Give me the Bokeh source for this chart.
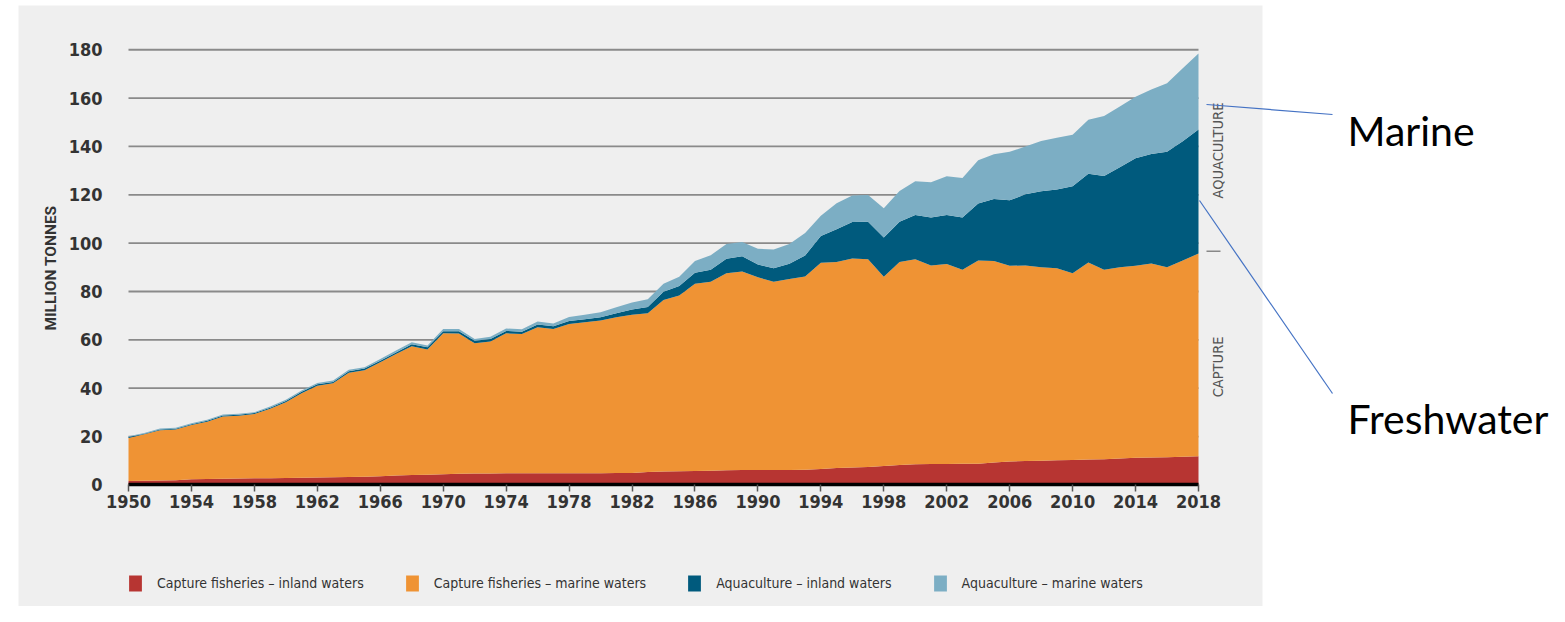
from math import pi
from bokeh.plotting import figure
from bokeh.models import (Range1d, FixedTicker, Legend, LegendItem, ColumnDataSource,
                          LinearAxis)
from bokeh.core.properties import value
from bokeh.embed import file_html
from bokeh.resources import INLINE

# ---------------- data (million tonnes) ----------------
years = list(range(1950, 2019))

capture_inland = [1.6, 1.7, 1.8, 1.9, 2.3, 2.4, 2.5, 2.6, 2.7, 2.8,
                  2.9, 3.0, 3.1, 3.2, 3.3, 3.4, 3.6, 3.9, 4.1, 4.2,
                  4.4, 4.6, 4.7, 4.7, 4.8, 4.8, 4.8, 4.8, 4.8, 4.8,
                  4.8, 4.9, 4.9, 5.3, 5.5, 5.6, 5.7, 5.9, 6.1, 6.2,
                  6.2, 6.2, 6.2, 6.3, 6.6, 7.0, 7.2, 7.4, 7.8, 8.2,
                  8.5, 8.6, 8.6, 8.7, 8.8, 9.3, 9.7, 9.9, 10.0, 10.2,
                  10.3, 10.5, 10.6, 10.9, 11.2, 11.3, 11.4, 11.6, 11.8]

capture_marine = [17.8, 19.2, 20.8, 21.0, 22.5, 23.7, 25.8, 26.0, 26.6, 28.7,
                  31.3, 34.9, 37.9, 38.8, 43.1, 44.0, 47.1, 50.2, 53.3, 51.8,
                  58.3, 58.0, 53.9, 54.6, 57.9, 57.6, 60.4, 59.7, 61.8, 62.5,
                  63.2, 64.5, 65.5, 65.7, 71.0, 72.7, 77.5, 78.1, 81.5, 82.1,
                  79.7, 77.8, 79.0, 79.9, 85.3, 85.2, 86.5, 85.9, 78.3, 84.0,
                  84.8, 82.2, 82.8, 80.3, 84.0, 83.3, 80.9, 80.9, 80.0, 79.4,
                  77.3, 81.5, 78.4, 79.1, 79.4, 80.3, 78.6, 81.2, 83.9]

aqua_inland = [0.4, 0.3, 0.3, 0.3, 0.3, 0.4, 0.4, 0.4, 0.4, 0.4,
               0.5, 0.6, 0.6, 0.6, 0.6, 0.7, 0.7, 0.7, 0.8, 0.9,
               0.9, 1.0, 1.0, 1.0, 1.0, 1.0, 1.1, 1.1, 1.2, 1.2,
               1.3, 1.6, 2.2, 2.6, 3.4, 4.0, 4.6, 5.0, 5.9, 6.3,
               5.3, 5.6, 6.3, 8.7, 11.1, 13.5, 15.0, 15.6, 16.2, 16.7,
               18.3, 19.8, 20.2, 21.6, 23.6, 25.7, 27.1, 29.4, 31.5, 32.6,
               35.9, 36.7, 38.8, 41.4, 44.5, 45.3, 47.8, 49.3, 51.3]

aqua_marine = [0.3, 0.3, 0.4, 0.4, 0.4, 0.4, 0.4, 0.4, 0.4, 0.5,
               0.5, 0.5, 0.5, 0.6, 0.6, 0.6, 0.7, 0.8, 0.8, 0.8,
               0.9, 0.9, 0.8, 1.0, 1.0, 1.0, 1.3, 1.2, 1.7, 1.9,
               2.1, 2.5, 2.8, 3.2, 3.3, 3.8, 4.8, 6.0, 6.1, 5.9,
               6.5, 7.8, 8.2, 9.3, 8.3, 10.8, 11.0, 11.0, 12.1, 12.7,
               14.0, 14.6, 16.1, 16.4, 17.9, 18.5, 20.1, 19.8, 20.8, 21.4,
               21.3, 22.3, 24.8, 25.1, 25.5, 26.7, 28.3, 30.2, 31.5]

series_labels = ["Capture fisheries \u2013 inland waters",
                 "Capture fisheries \u2013 marine waters",
                 "Aquaculture \u2013 inland waters",
                 "Aquaculture \u2013 marine waters"]
series_colors = ["#b73532", "#ef9334", "#005a7d", "#7caec4"]

y_ticks = [0, 20, 40, 60, 80, 100, 120, 140, 160, 180]
x_ticks = list(range(1950, 2019, 4))
side_labels = ["AQUACULTURE", "CAPTURE"]
side_label_values = [138.3, 48.8]
callouts = ["Marine", "Freshwater"]

# ---------------- layout helpers (picture pixels -> data) ----------------
W, H = 1549, 606
PX_PER_YEAR = 1070 / 68
PX_PER_UNIT = 2.4175
Y0_PX = 484.4


def dx(px):
    return 1950 + (px - 128) / PX_PER_YEAR


def dy(py):
    return (Y0_PX - py) / PX_PER_UNIT


NARROW = "'DejaVu Sans Condensed', 'Liberation Sans Narrow', 'Roboto Condensed', Roboto, sans-serif"

p = figure(width=W, height=H,
           x_range=Range1d(dx(0), dx(W)), y_range=Range1d(dy(H), dy(0)),
           output_backend="svg", toolbar_location=None,
           x_axis_location=None, y_axis_location=None,
           min_border=0, outline_line_color=None,
           background_fill_color="white", border_fill_color="white")
p.xgrid.visible = False
p.ygrid.visible = False

# grey panel
p.quad(left=[dx(18)], right=[dx(1262)], bottom=[dy(640)], top=[dy(5)],
       color="#efefef", line_color=None)

# horizontal grid lines
grid_vals = y_ticks[1:]
p.segment(x0=[years[0]] * len(grid_vals), x1=[years[-1]] * len(grid_vals),
          y0=grid_vals, y1=grid_vals, line_color="#8a8a8a", line_width=1.8)

# stacked areas
source = ColumnDataSource(dict(year=years, ci=capture_inland, cm=capture_marine,
                               ai=aqua_inland, am=aqua_marine))
renderers = p.varea_stack(["ci", "cm", "ai", "am"], x="year",
                          color=series_colors, source=source)

# x axis fixed at zero
xaxis = LinearAxis(fixed_location=0, ticker=FixedTicker(ticks=x_ticks),
                   bounds=(years[0], years[-1]))
xaxis.axis_line_color = "black"
xaxis.axis_line_width = 3.5
xaxis.major_tick_in = 0
xaxis.major_tick_out = 7
xaxis.major_tick_line_color = "#555555"
xaxis.major_tick_line_width = 1.5
xaxis.minor_tick_line_color = None
xaxis.major_label_standoff = 3
xaxis.major_label_text_font = NARROW
xaxis.major_label_text_font_size = "18px"
xaxis.major_label_text_color = "#333333"
xaxis.major_label_text_font_style = "bold"
p.add_layout(xaxis, "below")

# y axis fixed at first year
yaxis = LinearAxis(fixed_location=years[0], ticker=FixedTicker(ticks=y_ticks))
yaxis.axis_line_color = None
yaxis.major_tick_line_color = None
yaxis.minor_tick_line_color = None
yaxis.major_label_standoff = 20
yaxis.major_label_text_font = NARROW
yaxis.major_label_text_font_size = "18px"
yaxis.major_label_text_color = "#333333"
yaxis.major_label_text_font_style = "bold"
p.add_layout(yaxis, "left")

p.text(x=[dx(50)], y=[dy(267.5)], text=["MILLION TONNES"], angle=pi / 2,
       text_align="center", text_baseline="middle", text_font=value("Roboto"),
       text_font_style="bold", text_font_size="15.5px", text_color="#333333")

# right-hand side labels
p.text(x=[dx(1217)] * 2, y=side_label_values, text=side_labels, angle=pi / 2,
       text_align="center", text_baseline="middle", text_font=value(NARROW),
       text_font_size="14.5px", text_color="#555555")
p.segment(x0=[dx(1206)], x1=[dx(1220)], y0=[dy(250.7)], y1=[dy(250.7)],
          line_color="#888888", line_width=1.5)

# call-out lines and texts
p.segment(x0=[dx(1206), dx(1199)], x1=[dx(1332), dx(1332)],
          y0=[dy(104), dy(200)], y1=[dy(114), dy(393)],
          line_color="#4472c4", line_width=1.2)
p.text(x=[dx(1347)] * 2, y=[dy(130), dy(418)], text=callouts,
       text_align="left", text_baseline="alphabetic", text_font=value("Lato"),
       text_font_size="41px", text_color="black")

legend = Legend(items=[LegendItem(label=l, renderers=[r])
                       for l, r in zip(series_labels, renderers)],
                orientation="horizontal", location=(127, H - 593),
                glyph_width=16, glyph_height=20, label_standoff=14, spacing=40,
                padding=0, margin=0, border_line_color=None,
                background_fill_alpha=0, label_text_font=NARROW,
                label_text_font_size="14px", label_text_color="#333333",
                label_height=20)
p.add_layout(legend)

open("out.html", "w").write(file_html(p, INLINE))
